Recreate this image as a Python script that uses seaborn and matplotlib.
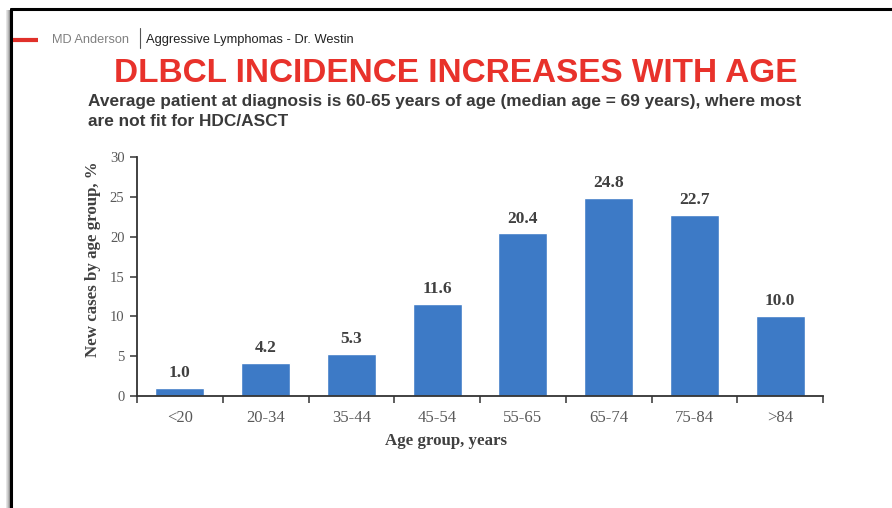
import matplotlib
matplotlib.use("Agg")
import matplotlib.pyplot as plt
from matplotlib.lines import Line2D
from matplotlib.patches import Rectangle
import seaborn as sns
import pandas as pd

# Share of new DLBCL cases by age group
age_groups = ["<20", "20-34", "35-44", "45-54", "55-65", "65-74", "75-84", ">84"]
pct_cases = [1.0, 4.2, 5.3, 11.6, 20.4, 24.8, 22.7, 10.0]
y_ticks = [0, 5, 10, 15, 20, 25, 30]

df = pd.DataFrame({"age": age_groups, "pct": pct_cases})

sns.set_theme(style="white")
plt.rcParams["font.family"] = ["Liberation Serif", "DejaVu Serif"]

W, H = 892, 508
fig = plt.figure(figsize=(W / 100, H / 100), dpi=100)
fig.patch.set_facecolor("white")

def fx(px):
    return px / W

def fy(py):
    return 1 - py / H

# slide frame with soft shadow on the left
for i, a in enumerate([0.10, 0.18, 0.28, 0.40]):
    fig.add_artist(Rectangle((fx(6 + i), 0), fx(1), fy(10), transform=fig.transFigure,
                             color="black", alpha=a, lw=0))
fig.add_artist(Line2D([fx(11), fx(11)], [fy(9), 0], transform=fig.transFigure,
                      color="black", lw=2.2))
fig.add_artist(Line2D([fx(11), 1], [fy(9), fy(9)], transform=fig.transFigure,
                      color="black", lw=2.2))

# header strip
fig.add_artist(Line2D([fx(13), fx(38)], [fy(40), fy(40)], transform=fig.transFigure,
                      color="#E0302A", lw=3, solid_capstyle="butt"))
fig.text(fx(52), fy(40), "MD Anderson", family="Liberation Sans", fontsize=9.2,
         color="#808080", va="center", ha="left")
fig.add_artist(Line2D([fx(140), fx(140)], [fy(28), fy(48)], transform=fig.transFigure,
                      color="#555555", lw=0.8))
fig.text(fx(146), fy(39.5), "Aggressive Lymphomas - Dr. Westin", family="Liberation Sans",
         fontsize=9.3, color="#222222", va="center", ha="left")

# title and subtitle
fig.text(fx(456), fy(82), "DLBCL INCIDENCE INCREASES WITH AGE", family="Liberation Sans",
         fontsize=24, fontweight="bold", color="#E8322B", ha="center", va="baseline")
fig.text(fx(88), fy(106), "Average patient at diagnosis is 60-65 years of age (median age = 69 years), where most",
         family="Liberation Sans", fontsize=12.4, fontweight="bold", color="#3A3A3A",
         ha="left", va="baseline")
fig.text(fx(88), fy(126), "are not fit for HDC/ASCT",
         family="Liberation Sans", fontsize=12.4, fontweight="bold", color="#3A3A3A",
         ha="left", va="baseline")

# bar chart
ax = fig.add_axes([fx(137), fy(396), fx(823) - fx(137), fy(157) - fy(396)])
sns.barplot(data=df, x="age", y="pct", color="#3D7AC6", saturation=1, width=0.57, ax=ax)

ax.set_xlim(-0.5, len(age_groups) - 0.5)
ax.set_ylim(0, 30)
ax.set_yticks(y_ticks)
ax.set_yticklabels([str(t) for t in y_ticks])
ax.set_facecolor("white")

for side in ["top", "right"]:
    ax.spines[side].set_visible(False)
for side in ["left", "bottom"]:
    ax.spines[side].set_visible(True)
    ax.spines[side].set_color("#333333")
    ax.spines[side].set_linewidth(1.3)

ax.tick_params(axis="y", direction="out", length=5, width=1.1, color="#333333",
               labelsize=10.5, labelcolor="#595959", pad=4, left=True)
ax.tick_params(axis="x", which="major", length=0, labelsize=12,
               labelcolor="#595959", pad=10)
ax.set_xticks([i - 0.5 for i in range(len(age_groups) + 1)], minor=True)
ax.tick_params(axis="x", which="minor", direction="out", length=5, width=1.1,
               color="#333333", bottom=True)

for i, v in enumerate(pct_cases):
    ax.annotate(f"{v:.1f}", (i, v), xytext=(0, 5), textcoords="offset points",
                ha="center", va="bottom", fontsize=12.5, fontweight="bold", color="#404040")

ax.set_xlabel("Age group, years", fontsize=12.2, fontweight="bold", color="#404040")
ax.set_ylabel("New cases by age group, %", fontsize=12.2, fontweight="bold", color="#404040")
ax.xaxis.set_label_coords(0.45, -0.155)
ax.yaxis.set_label_coords(-0.052, 0.573)
ax.grid(False)

fig.savefig("out.png", dpi=100, facecolor="white")
